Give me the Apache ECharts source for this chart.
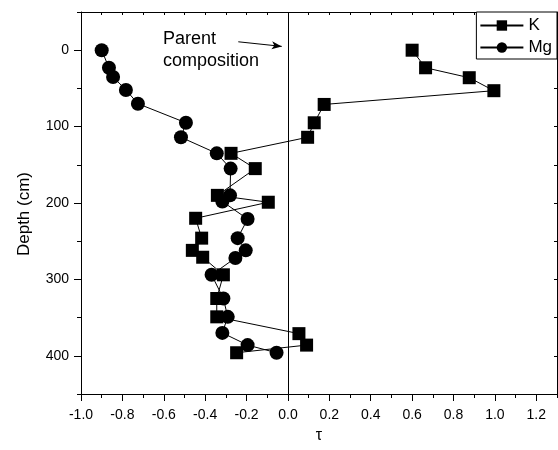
<!DOCTYPE html>
<html>
<head>
<meta charset="utf-8">
<script src="https://cdn.jsdelivr.net/npm/echarts@6/dist/echarts.min.js"></script>
<style>html,body{margin:0;padding:0;background:#fff}#c{width:558px;height:450px}</style>
</head>
<body>
<div id="c"></div>
<script>
// Potassium (K) – tau values and depths (cm)
const kTau   = [0.60, 0.665, 0.876, 0.995, 0.175, 0.127, 0.095, -0.275, -0.158, -0.341, -0.095, -0.446, -0.417, -0.462, -0.412, -0.312, -0.344, -0.344, 0.053, 0.090, -0.248];
const kDepth = [0, 23, 36, 53, 71, 95, 114, 135, 155, 190, 199, 220, 246, 262, 271, 294, 325, 349, 371, 386, 396];
// Magnesium (Mg)
const mgTau   = [-0.90, -0.865, -0.845, -0.783, -0.725, -0.493, -0.517, -0.344, -0.277, -0.28, -0.317, -0.195, -0.243, -0.204, -0.254, -0.369, -0.312, -0.291, -0.317, -0.195, -0.055];
const mgDepth = [0, 23, 35, 52, 70, 95, 114, 135, 155, 190, 198, 221, 246, 262, 272, 294, 325, 349, 370, 386, 396];
// Tick labels
const xTicks = [-1.0, -0.8, -0.6, -0.4, -0.2, 0.0, 0.2, 0.4, 0.6, 0.8, 1.0, 1.2];
const yTicks = [0, 100, 200, 300, 400];
// Annotation
const parentLine = [0];
const arrowStart = [-0.24, -11];
const arrowEnd   = [-0.03, -5];
const annotationText = ['Parent', 'composition'];

const FONT = 'Liberation Sans, Arial, sans-serif';
const chart = echarts.init(document.getElementById('c'), null, {renderer: 'canvas'});
const X_MIN = -1.0, X_MAX = 1.3, Y_MIN = -50, Y_MAX = 450;

function pairs(xs, ys) { return xs.map((v, i) => [v, ys[i]]); }

const axisLineStyle = {show: true, onZero: false, lineStyle: {color: '#000', width: 1}};
const noLine = {show: false, onZero: false};

chart.setOption({
  animation: false,
  backgroundColor: '#fff',
  textStyle: {fontFamily: FONT, color: '#000'},
  grid: {left: 81, top: 12, right: 1, bottom: 56, containLabel: false},
  legend: {
    orient: 'vertical', right: 1, top: 12,
    backgroundColor: '#fff', borderColor: '#000', borderWidth: 1, borderRadius: 0,
    padding: [5, 5, 3, 3], itemGap: 5, itemWidth: 43, itemHeight: 13,
    textStyle: {fontFamily: FONT, fontSize: 17, color: '#000'},
    data: ['K', 'Mg']
  },
  xAxis: [
    {
      type: 'value', min: X_MIN, max: X_MAX, position: 'bottom',
      name: 'τ', nameLocation: 'middle', nameGap: 34,
      nameTextStyle: {fontFamily: FONT, fontSize: 16, color: '#000'},
      axisLine: axisLineStyle,
      axisTick: {show: true, inside: false, length: 7, customValues: xTicks, lineStyle: {color: '#000'}},
      axisLabel: {show: true, customValues: xTicks, margin: 14, fontSize: 14, fontFamily: FONT, color: '#000',
        formatter: v => v.toFixed(1)},
      splitLine: {show: false}
    },
    {
      type: 'value', min: X_MIN, max: X_MAX, interval: 0.1, position: 'bottom',
      axisLine: noLine, axisLabel: {show: false}, splitLine: {show: false},
      axisTick: {show: true, inside: false, length: 4, lineStyle: {color: '#000'}}
    },
    {
      type: 'value', min: X_MIN, max: X_MAX, interval: 0.1, position: 'top',
      axisLine: axisLineStyle, axisLabel: {show: false}, splitLine: {show: false},
      axisTick: {show: true, inside: true, length: 3, lineStyle: {color: '#000'}}
    }
  ],
  yAxis: [
    {
      type: 'value', min: Y_MIN, max: Y_MAX, inverse: true, position: 'left',
      name: 'Depth (cm)', nameLocation: 'middle', nameGap: 48,
      nameTextStyle: {fontFamily: FONT, fontSize: 17, color: '#000', padding: [0, 22, 0, 0]},
      axisLine: axisLineStyle,
      axisTick: {show: true, inside: false, length: 7, customValues: yTicks, lineStyle: {color: '#000'}},
      axisLabel: {show: true, customValues: yTicks, margin: 12, fontSize: 14, fontFamily: FONT, color: '#000'},
      splitLine: {show: false}
    },
    {
      type: 'value', min: Y_MIN, max: Y_MAX, interval: 50, inverse: true, position: 'left',
      axisLine: noLine, axisLabel: {show: false}, splitLine: {show: false},
      axisTick: {show: true, inside: false, length: 4, lineStyle: {color: '#000'}}
    },
    {
      type: 'value', min: Y_MIN, max: Y_MAX, interval: 50, inverse: true, position: 'right',
      axisLine: axisLineStyle, axisLabel: {show: false}, splitLine: {show: false},
      axisTick: {show: true, inside: true, length: 3, lineStyle: {color: '#000'}}
    }
  ],
  graphic: [
    {type: 'text', left: 163, top: 30, z: 10,
      style: {text: annotationText[0], fontFamily: FONT, fontSize: 18, fill: '#000'}},
    {type: 'text', left: 163, top: 52, z: 10,
      style: {text: annotationText[1], fontFamily: FONT, fontSize: 18, fill: '#000'}}
  ],
  series: [
    {
      name: 'K', type: 'line', xAxisIndex: 0, yAxisIndex: 0,
      data: pairs(kTau, kDepth),
      symbol: 'rect', symbolSize: 13, showAllSymbol: true,
      itemStyle: {color: '#000', borderWidth: 0},
      lineStyle: {color: '#000', width: 1},
      z: 3,
      markLine: {
        silent: true, symbol: ['none', 'none'], animation: false,
        label: {show: false},
        lineStyle: {color: '#000', width: 1, type: 'solid'},
        data: parentLine.map(v => ({xAxis: v}))
      }
    },
    {
      name: 'Mg', type: 'line', xAxisIndex: 0, yAxisIndex: 0,
      data: pairs(mgTau, mgDepth),
      symbol: 'circle', symbolSize: 14, showAllSymbol: true,
      itemStyle: {color: '#000', borderWidth: 0},
      lineStyle: {color: '#000', width: 1},
      z: 4,
      markLine: {
        silent: true, symbol: ['none', 'arrow'], symbolSize: [6, 10], animation: false,
        label: {show: false},
        lineStyle: {color: '#000', width: 1, type: 'solid'},
        data: [[{coord: arrowStart}, {coord: arrowEnd}]]
      }
    }
  ]
});
</script>
</body>
</html>
